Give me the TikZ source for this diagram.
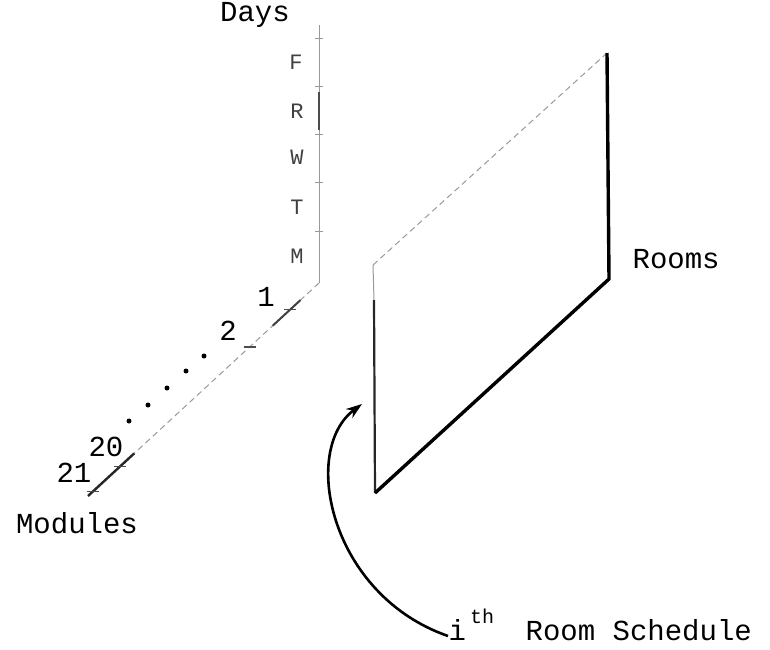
\documentclass[tikz,border=0pt]{standalone}
\usepackage{fontspec}
\setmonofont{Liberation Mono}
\usetikzlibrary{arrows.meta,calc}

\begin{document}
\begin{tikzpicture}[x=0.5pt, y=-0.5pt, line width=0.6pt,
  lbl/.style={font=\ttfamily\fontsize{14.5}{16}\selectfont, inner sep=0pt},
  daylbl/.style={font=\ttfamily\fontsize{11}{13}\selectfont, text=black!75, inner sep=0pt},
  faint/.style={draw=black!40, line width=0.5pt},
  heavy/.style={draw=black, line width=1.5pt}]
  \useasboundingbox (0,0) rectangle (770,649);
  \coordinate (o) at (319,283);
  \coordinate (dtop) at (319,25);
  \coordinate (mend) at (88,496);
  \coordinate (ptl) at (373,265);
  \coordinate (ptr) at (607,53);
  \coordinate (pbr) at (609,279);
  \coordinate (pbl) at (375,493);
  \coordinate (pml) at (374,300);
  \coordinate (arrs) at (448,636);
  \coordinate (arre) at (362,404);
  \draw[faint] (o) -- (dtop);
  \draw[black!70, line width=0.8pt] (319,92) -- (319,130);
  \foreach \y in {38,86,134,182,231}
    \draw[faint] (315,\y) -- (323,\y);
  \draw[faint, densely dashed] (o) -- (mend);
  \draw[black!75, line width=1pt] ($(o)!0.08!(mend)$) -- ($(o)!0.2!(mend)$);
  \draw[black!85, line width=1.2pt] ($(o)!0.8!(mend)$) -- (mend);
  \foreach \t in {0.125,0.3,0.86,0.98}
    \draw[black!70] ($(o)!\t!(mend)$) ++(-6,0) -- ++(12,0);
  \foreach \x/\y in {204/356,186/371,167/388,148/405,129/421}
    \fill (\x,\y) circle (2.5);
  \draw[faint, densely dashed] (ptl) -- (ptr);
  \draw[faint] (ptl) -- (pml);
  \draw[black!85, line width=1.1pt] (pml) -- (pbl);
  \draw[heavy, line width=1.7pt] (ptr) -- (pbr) -- (pbl);
  \draw[heavy, line width=1.3pt, -{Stealth[length=8pt, width=5.5pt]}] (arrs) .. controls (330,595) and (300,450) .. (arre);
  \node[lbl] (days) at (255,15) {Days};
  \node[daylbl] (dayF) at (296,62) {F};
  \node[daylbl] (dayR) at (297,111) {R};
  \node[daylbl] (dayW) at (297,157) {W};
  \node[daylbl] (dayT) at (297,207) {T};
  \node[daylbl] (dayM) at (297,256) {M};
  \node[lbl] (mod1) at (266,297) {1};
  \node[lbl] (mod2) at (228,331) {2};
  \node[lbl] (mod20) at (106,447) {20};
  \node[lbl] (mod21) at (74,473) {21};
  \node[lbl] (modules) at (77,523) {Modules};
  \node[lbl, anchor=west] (rooms) at (632,259) {Rooms};
  \node[lbl, anchor=base west] (ith) at (448,640) {i\kern2pt\raisebox{1.1ex}{\fontsize{10}{12}\selectfont th}};
  \node[lbl, anchor=base west] (sched) at (525,640) {Room Schedule};
\end{tikzpicture}
\end{document}
